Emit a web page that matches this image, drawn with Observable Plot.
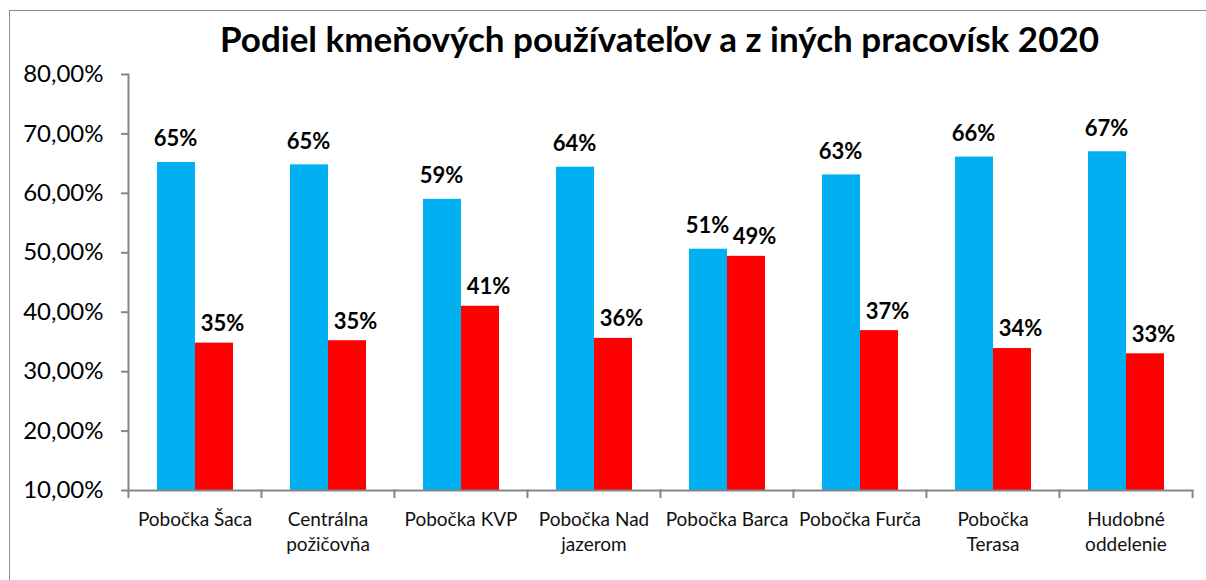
<!DOCTYPE html>
<html>
<head>
<meta charset="utf-8">
<script src="https://cdn.jsdelivr.net/npm/d3@7"></script>
<script src="https://cdn.jsdelivr.net/npm/@observablehq/plot@0.6"></script>
<style>
  html, body { margin: 0; padding: 0; background: #fff; overflow: hidden; }
  #frame { position: absolute; left: 9px; top: 10px; width: 1400px; height: 800px; border: 1px solid #8c8c8c; box-sizing: border-box; }
  #title { position: absolute; left: 127px; width: 1065px; top: 14px; height: 34px; text-align: center;
           font: bold 35px Lato, "Open Sans", sans-serif; color: #000; line-height: 1.4; white-space: nowrap; }
  #chart { position: absolute; left: 0; top: 50px; }
  #chart svg { overflow: visible; }
</style>
</head>
<body>
<div id="frame"></div>
<div id="title">Podiel kmeňových používateľov a z iných pracovísk 2020</div>
<div id="chart"></div>
<script>
const categories = ["Pobočka Šaca", "Centrálna požičovňa", "Pobočka KVP", "Pobočka Nad jazerom", "Pobočka Barca", "Pobočka Furča", "Pobočka Terasa", "Hudobné oddelenie"];
const tickLabels = ["Pobočka Šaca", "Centrálna\npožičovňa", "Pobočka KVP", "Pobočka Nad\njazerom", "Pobočka Barca", "Pobočka Furča", "Pobočka\nTerasa", "Hudobné\noddelenie"];
const seriesNames = ["kmeňoví používatelia", "používatelia z iných pracovísk"];
const seriesColors = ["#00B0F0", "#FF0000"];
const kmenovi = [65.2, 64.8, 59.0, 64.4, 50.6, 63.1, 66.1, 67.0];
const ini = [34.8, 35.2, 41.0, 35.6, 49.4, 36.9, 33.9, 33.0];
const yTicks = [10, 20, 30, 40, 50, 60, 70, 80];

const data = [];
categories.forEach((c, i) => {
  data.push({category: c, series: seriesNames[0], value: kmenovi[i]});
  data.push({category: c, series: seriesNames[1], value: ini[i]});
});

const width = 1206, height = 530;
const marginLeft = 127, marginRight = 14, marginTop = 24, marginBottom = 90;
const step = (width - marginLeft - marginRight) / categories.length;
const gray = "#868686";
const fmtTick = d => d.toFixed(2).replace(".", ",") + "%";
const fmtLabel = d => Math.round(d) + "%";

const chart = Plot.plot({
  width, height, marginLeft, marginRight, marginTop, marginBottom,
  style: {fontFamily: "Lato, 'Open Sans', sans-serif", color: "#000", background: "transparent"},
  fx: {domain: categories, padding: 0, label: null},
  x: {domain: seriesNames, paddingInner: 0, paddingOuter: 0.75, axis: null},
  y: {domain: [10, 80], label: null},
  color: {domain: seriesNames, range: seriesColors},
  marks: [
    Plot.barY(data, {fx: "category", x: "series", y: "value", fill: "series", clip: true}),
    Plot.text(data.filter(d => d.series === seriesNames[0]), {
      fx: "category", x: "series", y: "value", text: d => fmtLabel(d.value),
      lineAnchor: "bottom", dy: -16, dx: -1, fontSize: 22, fontWeight: "bold", fill: "#000"
    }),
    Plot.text(data.filter(d => d.series === seriesNames[1]), {
      fx: "category", x: "series", y: "value", text: d => fmtLabel(d.value),
      lineAnchor: "bottom", dy: -12, dx: 8, fontSize: 22, fontWeight: "bold", fill: "#000"
    }),
    Plot.frame({anchor: "bottom", stroke: gray, strokeWidth: 2}),
    Plot.frame({anchor: "left", facetAnchor: "left", stroke: gray, strokeWidth: 2}),
    Plot.axisY({ticks: yTicks, tickFormat: fmtTick, tickSize: 7, tickPadding: 18, fontSize: 24, stroke: gray, strokeWidth: 2, fill: "#000", label: null}),
    Plot.axisFx({anchor: "bottom", tickSize: 8, tickFormat: () => "", dx: -step / 2, stroke: gray, strokeWidth: 2, label: null}),
    Plot.axisFx({anchor: "bottom", ticks: [categories[categories.length - 1]], tickSize: 8, tickFormat: () => "", dx: step / 2, stroke: gray, strokeWidth: 2, label: null}),
    Plot.axisFx({anchor: "bottom", tickSize: 0, tickPadding: 18, fontSize: 19, lineHeight: 1.3, textAnchor: "middle",
      tickFormat: d => tickLabels[categories.indexOf(d)], fill: "#111", label: null})
  ]
});
document.getElementById("chart").appendChild(chart);
</script>
</body>
</html>
